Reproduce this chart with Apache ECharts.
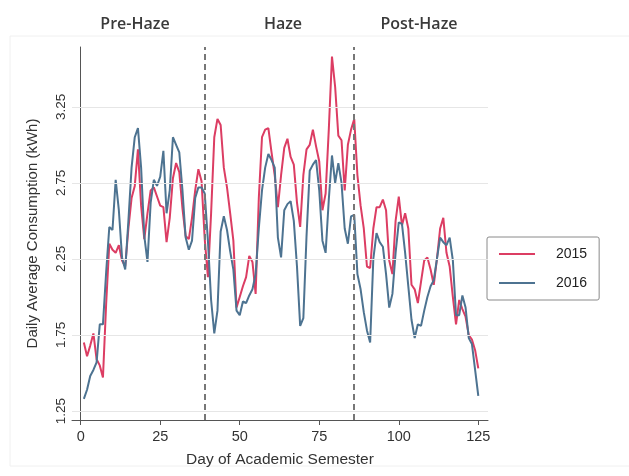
<!DOCTYPE html>
<html>
<head>
<meta charset="utf-8">
<script src="https://cdn.jsdelivr.net/npm/echarts@6/dist/echarts.min.js"></script>
<style>
html,body{margin:0;padding:0;background:#fff;}
#c{width:629px;height:476px;}
</style>
</head>
<body>
<div id="c"></div>
<script>
// Day of semester 1..125
var days = [];
for (var i = 1; i <= 125; i++) days.push(i);

var y2015 = [
1.70,1.61,1.68,1.76,1.59,1.55,1.47,1.95,2.35,2.31,
2.29,2.34,2.24,2.20,2.45,2.65,2.73,2.97,2.60,2.38,
2.55,2.70,2.72,2.66,2.60,2.59,2.36,2.52,2.78,2.88,
2.82,2.58,2.40,2.38,2.52,2.70,2.84,2.76,2.38,2.13,
2.55,3.05,3.17,3.13,2.85,2.72,2.55,2.37,1.93,2.00,
2.07,2.13,2.27,2.23,2.02,2.65,3.05,3.10,3.11,2.95,
2.80,2.59,2.80,2.98,3.04,2.92,2.87,2.62,2.46,2.80,
2.97,3.00,3.10,2.99,2.89,2.57,2.68,3.10,3.58,3.38,
3.06,3.03,2.70,3.00,3.10,3.17,2.80,2.60,2.45,2.20,
2.19,2.45,2.59,2.59,2.64,2.57,2.24,2.15,2.50,2.66,
2.47,2.55,2.45,2.08,2.05,1.96,2.10,2.24,2.26,2.18,
2.08,2.25,2.45,2.52,2.29,2.20,2.00,1.82,1.98,1.92,
1.87,1.75,1.72,1.65,1.53
];

var y2016 = [
1.33,1.39,1.48,1.52,1.57,1.82,1.82,2.16,2.46,2.44,
2.77,2.57,2.26,2.18,2.50,2.85,3.05,3.11,2.85,2.40,
2.23,2.62,2.77,2.73,2.79,2.96,2.55,2.70,3.05,3.00,
2.95,2.70,2.39,2.31,2.37,2.65,2.72,2.72,2.68,2.37,
1.98,1.76,1.91,2.43,2.53,2.44,2.30,2.18,1.91,1.88,
1.97,1.96,2.01,2.05,2.15,2.45,2.70,2.85,2.94,2.90,
2.85,2.39,2.26,2.57,2.61,2.63,2.50,2.20,1.81,1.86,
2.40,2.83,2.87,2.90,2.70,2.37,2.29,2.64,2.93,2.75,
2.88,2.75,2.45,2.35,2.53,2.54,2.15,2.05,1.90,1.78,
1.70,2.25,2.42,2.36,2.33,2.15,1.93,2.02,2.29,2.49,
2.48,2.29,2.07,1.85,1.73,1.82,1.81,1.91,2.00,2.07,
2.11,2.25,2.39,2.36,2.34,2.39,2.24,1.88,1.88,2.01,
1.93,1.73,1.69,1.52,1.35
];

var xTicks = [0, 25, 50, 75, 100, 125];
var yTicks = [1.25, 1.75, 2.25, 2.75, 3.25];
var phaseBreaks = [39, 86];
var phaseNames = ['Pre-Haze', 'Haze', 'Post-Haze'];
var seriesNames = ['2015', '2016'];

function pairs(vals) {
  return vals.map(function (v, i) { return [days[i], v]; });
}

var chart = echarts.init(document.getElementById('c'), null, {renderer: 'canvas'});

var option = {
  backgroundColor: '#fff',
  animation: false,
  grid: {left: 72, top: 47, right: 141, bottom: 56, containLabel: false},
  xAxis: {
    type: 'value',
    min: -2.73, max: 128.05,
    name: 'Day of Academic Semester',
    nameLocation: 'middle',
    nameGap: 32,
    nameTextStyle: {fontFamily: 'Liberation Sans, Arial', fontSize: 15.5, color: '#333'},
    axisLine: {show: true, lineStyle: {color: '#555', width: 1}},
    axisTick: {show: true, length: 5, customValues: xTicks, lineStyle: {color: '#555'}},
    axisLabel: {customValues: xTicks, margin: 9, fontFamily: 'Liberation Sans, Arial', fontSize: 14.5, color: '#333'},
    splitLine: {show: false}
  },
  yAxis: {
    type: 'value',
    min: 1.191, max: 3.643,
    name: 'Daily Average Consumption (kWh)',
    nameLocation: 'middle',
    nameRotate: 90,
    nameGap: 32,
    nameTextStyle: {fontFamily: 'Liberation Sans, Arial', fontSize: 15, color: '#333'},
    axisLine: {show: true, lineStyle: {color: '#555', width: 1}},
    axisTick: {show: true, length: 5, customValues: yTicks, lineStyle: {color: '#555'}},
    axisLabel: {customValues: yTicks, rotate: 90, margin: 4, fontFamily: 'Liberation Sans, Arial', fontSize: 13.5, color: '#333',
      formatter: function (v) { return v.toFixed(2); }},
    splitLine: {show: false}
  },
  legend: {
    orient: 'vertical',
    left: 487, top: 237,
    data: seriesNames,
    icon: 'rect',
    borderColor: '#8a8a8a', borderWidth: 1, borderRadius: 2,
    padding: [10, 12, 10, 12],
    itemWidth: 36, itemHeight: 2, itemGap: 15,
    textStyle: {fontFamily: 'Liberation Sans, Arial', fontSize: 14, color: '#222', padding: [0, 0, 0, 16]}
  },
  graphic: [
    {type: 'rect', shape: {x: 10, y: 36, width: 640, height: 430}, style: {fill: 'none', stroke: '#f0f0f0', lineWidth: 1}, silent: true, z: -10},
    {type: 'text', x: 135, y: 24, style: {text: phaseNames[0], fontFamily: 'Open Sans', fontSize: 16, fontWeight: 600, fill: '#3a3a3a', textAlign: 'center', textVerticalAlign: 'middle'}},
    {type: 'text', x: 283, y: 24, style: {text: phaseNames[1], fontFamily: 'Open Sans', fontSize: 16, fontWeight: 600, fill: '#3a3a3a', textAlign: 'center', textVerticalAlign: 'middle'}},
    {type: 'text', x: 419, y: 24, style: {text: phaseNames[2], fontFamily: 'Open Sans', fontSize: 16, fontWeight: 600, fill: '#3a3a3a', textAlign: 'center', textVerticalAlign: 'middle'}}
  ],
  series: [
    {
      name: seriesNames[0], type: 'line', data: pairs(y2015),
      symbol: 'none', color: '#dc3d63',
      lineStyle: {width: 2, color: '#dc3d63'}, z: 3,
      markLine: {
        silent: true, symbol: 'none', label: {show: false},
        lineStyle: {color: '#e6e6e6', type: 'solid', width: 1},
        data: yTicks.map(function (v) { return {yAxis: v}; })
      }
    },
    {
      name: seriesNames[1], type: 'line', data: pairs(y2016),
      symbol: 'none', color: '#4d7391',
      lineStyle: {width: 2, color: '#4d7391'}, z: 4,
      markLine: {
        silent: true, symbol: 'none', label: {show: false},
        lineStyle: {color: '#777', type: [6, 4], width: 2},
        data: phaseBreaks.map(function (v) { return {xAxis: v}; })
      }
    }
  ]
};
chart.setOption(option);
</script>
</body>
</html>
